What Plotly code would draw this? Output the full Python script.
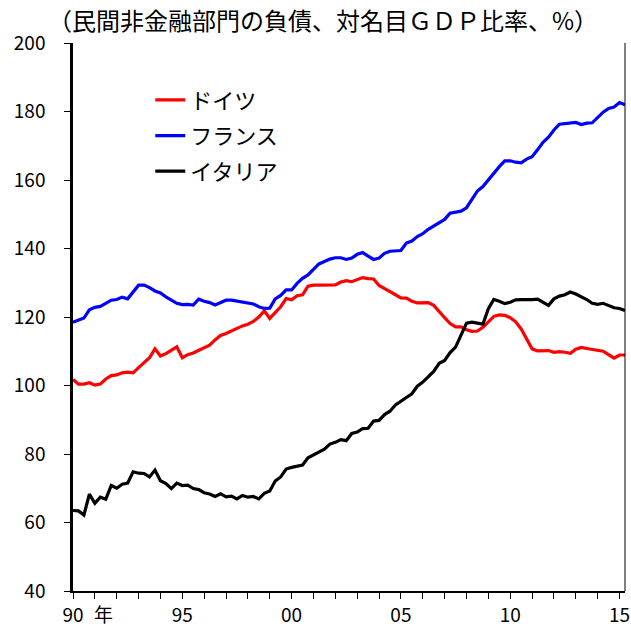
import plotly.graph_objects as go

# Quarterly, 1990Q1 .. 2015Q2
quarters = [1990 + i / 4 for i in range(102)]

germany = [
    101.8, 100.4, 100.4, 100.8, 100.1, 100.4, 101.9, 102.9, 103.1, 103.7,
    103.9, 103.7, 105.2, 106.6, 108.1, 110.7, 108.6, 109.3, 110.3, 111.3,
    108.1, 109.0, 109.5, 110.2, 110.9, 111.8, 113.3, 114.6, 115.2, 116.0,
    116.7, 117.4, 117.9, 118.7, 120.0, 121.8, 119.6, 121.3, 123.0, 125.4,
    125.0, 126.2, 126.5, 129.0, 129.3, 129.3, 129.3, 129.3, 129.4, 130.2,
    130.6, 130.3, 130.8, 131.5, 131.2, 131.1, 129.2, 128.2, 127.4, 126.5,
    125.6, 125.5, 124.6, 124.1, 124.2, 124.2, 123.4, 121.5, 119.8, 118.1,
    117.1, 117.1, 116.3, 115.8, 115.9, 117.0, 118.5, 120.2, 120.6, 120.5,
    119.8, 118.6, 116.5, 113.5, 110.7, 110.1, 110.2, 110.2, 109.7, 109.9,
    109.7, 109.4, 110.6, 111.1, 110.8, 110.5, 110.1, 110.0, 109.0, 108.0,
    108.9, 108.9,
]

france = [
    118.5, 119.1, 119.7, 122.1, 122.8, 123.1, 123.9, 124.9, 125.1, 125.8,
    125.3, 127.3, 129.3, 129.3, 128.6, 127.6, 127.0, 125.9, 124.9, 124.0,
    123.6, 123.7, 123.5, 125.2, 124.6, 124.2, 123.5, 124.2, 124.9, 124.9,
    124.6, 124.4, 124.2, 123.8, 123.0, 122.5, 122.6, 125.3, 126.3, 127.9,
    127.9, 129.8, 131.3, 132.3, 133.9, 135.5, 136.2, 136.9, 137.3, 137.3,
    136.8, 137.2, 138.3, 138.8, 137.8, 136.8, 137.2, 138.6, 139.2, 139.4,
    139.4, 141.6, 142.2, 143.5, 144.3, 145.6, 146.6, 147.5, 148.5, 150.3,
    150.7, 150.9, 151.9, 154.5, 156.8, 158.1, 160.1, 162.0, 163.9, 165.6,
    165.6, 165.2, 165.0, 166.1, 166.8, 168.8, 171.0, 172.5, 174.6, 176.3,
    176.4, 176.7, 176.8, 176.2, 176.6, 176.7, 178.3, 179.8, 180.9, 181.3,
    182.6, 182.0,
]

italy = [
    63.5, 63.4, 62.2, 68.3, 65.6, 67.4, 66.8, 70.8, 70.0, 71.2,
    71.5, 74.8, 74.4, 74.3, 73.3, 75.3, 72.2, 71.4, 69.9, 71.5,
    70.8, 70.9, 69.9, 69.6, 68.7, 68.3, 67.6, 68.4, 67.5, 67.7,
    66.9, 67.9, 67.4, 67.6, 66.9, 68.5, 69.2, 72.1, 73.3, 75.6,
    76.1, 76.5, 76.8, 78.9, 79.8, 80.7, 81.4, 82.9, 83.4, 84.2,
    83.9, 86.0, 86.4, 87.4, 87.5, 89.6, 89.8, 91.5, 92.5, 94.3,
    95.3, 96.5, 97.6, 99.8, 101.0, 102.7, 104.1, 106.5, 107.3, 109.6,
    111.2, 114.7, 118.2, 118.5, 118.3, 117.9, 122.4, 125.1, 124.6, 123.9,
    124.3, 125.0, 125.1, 125.0, 125.1, 125.2, 124.2, 123.4, 125.3, 126.1,
    126.5, 127.3, 126.7, 126.0, 125.1, 124.0, 123.7, 124.0, 123.4, 122.7,
    122.5, 121.9,
]

series_names = ["ドイツ", "フランス", "イタリア"]
series_colors = ["#FF0000", "#0000FF", "#000000"]

year_ticks = list(range(1990, 2016))
year_labels = {1990: "90", 1995: "95", 2000: "00", 2005: "05", 2010: "10", 2015: "15"}
x_ticktext = [year_labels.get(y, "") for y in year_ticks]
y_ticks = list(range(40, 201, 20))

title_text = "（民間非金融部門の負債、対名目ＧＤＰ比率、%）"
year_unit = "年"

FONT = "Noto Sans CJK JP"

fig = go.Figure()
for name, vals, col in zip(series_names, [germany, france, italy], series_colors):
    fig.add_trace(go.Scatter(
        x=quarters, y=vals, mode="lines", name=name, legendgroup=name,
        line=dict(color=col, width=3.2),
    ))

fig.update_layout(
    width=631, height=628,
    margin=dict(l=73, r=6, t=43, b=37, autoexpand=False),
    paper_bgcolor="white", plot_bgcolor="white",
    font=dict(family=FONT, color="black", size=18),
    showlegend=True,
    legend=dict(
        x=0.14, y=0.934, xanchor="left", yanchor="top",
        bgcolor="rgba(0,0,0,0)", borderwidth=0,
        font=dict(size=22, family=FONT, color="black"),
        traceorder="grouped", tracegroupgap=4,
        itemwidth=30,
    ),
    xaxis=dict(
        range=[1990, 2015.25], showgrid=False, zeroline=False, automargin=False,
        showline=True, linecolor="black", linewidth=1.5,
        ticks="outside", ticklen=6, tickcolor="black", tickwidth=1,
        tickvals=year_ticks, ticktext=x_ticktext,
        tickfont=dict(size=19, family=FONT),
    ),
    yaxis=dict(
        range=[40, 200], showgrid=False, zeroline=False, automargin=False,
        showline=True, linecolor="black", linewidth=2.5,
        ticks="outside", ticklen=6, tickcolor="black", tickwidth=1,
        tickvals=y_ticks, ticklabelstandoff=15,
        tickfont=dict(size=19, family=FONT),
    ),
    shapes=[dict(type="line", xref="paper", yref="paper", x0=1, x1=1, y0=0, y1=1,
                 line=dict(color="black", width=1))],
    annotations=[
        dict(text=title_text, xref="paper", yref="paper", x=-0.049, y=1,
             xanchor="left", yanchor="middle", yshift=24, showarrow=False,
             font=dict(size=24, family=FONT, color="black")),
        dict(text=year_unit, xref="x", yref="paper", x=1991.4, y=0,
             xanchor="center", yanchor="top", yshift=-7, showarrow=False,
             font=dict(size=19, family=FONT, color="black")),
    ],
)

fig.write_html(
    "out.html",
    config={"displayModeBar": False},
    post_script="document.body.style.margin='0';document.body.style.padding='0';",
)
